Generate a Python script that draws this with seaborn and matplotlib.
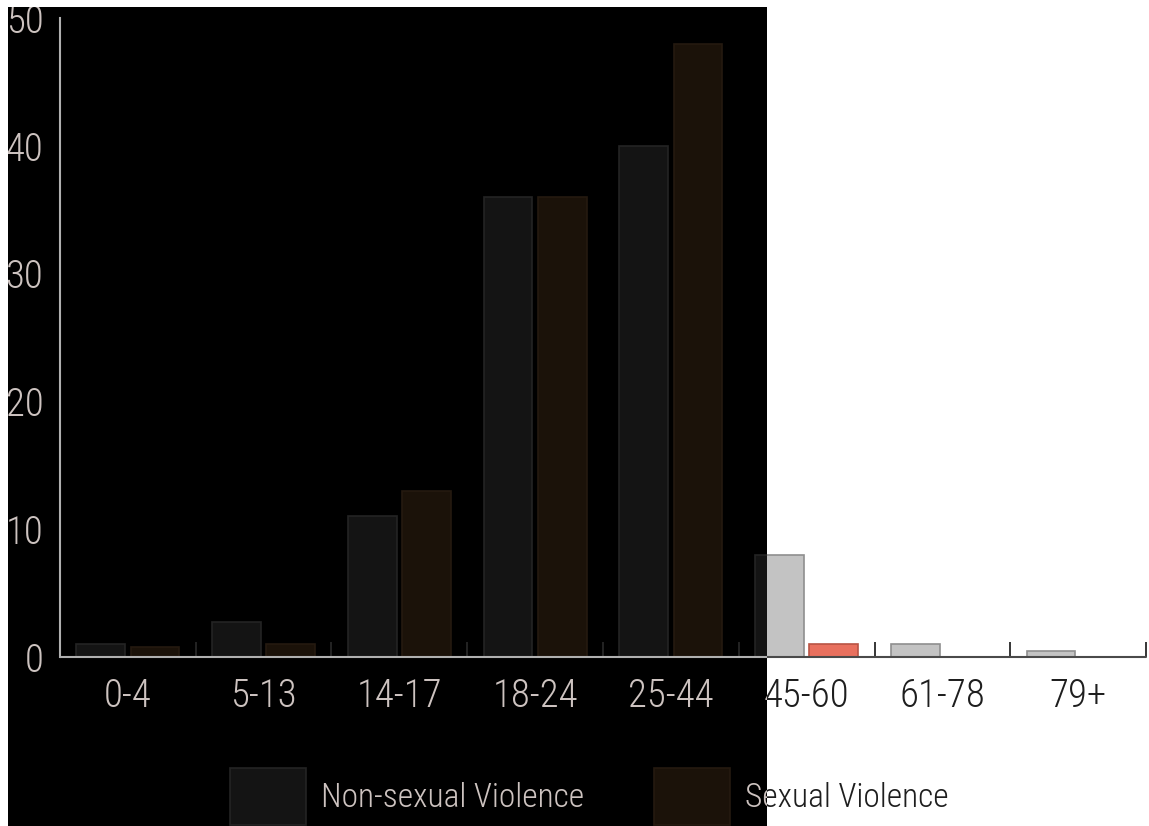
import matplotlib
matplotlib.use("Agg")
import matplotlib.pyplot as plt
from matplotlib.patches import Rectangle, Patch
from matplotlib.text import Text
from matplotlib import font_manager
import seaborn as sns
import pandas as pd

age_groups = ["0-4", "5-13", "14-17", "18-24", "25-44", "45-60", "61-78", "79+"]
non_sexual = [1, 2.7, 11, 36, 40, 8, 1, 0.5]
sexual = [0.8, 1, 13, 36, 48, 1, 0, 0]
series_names = ["Non-sexual Violence", "Sexual Violence"]
y_ticks = [0, 10, 20, 30, 40, 50]

# colours on the white part, and inside the dark band on the left
LIGHT_FILL = {"Non-sexual Violence": "#c3c3c3", "Sexual Violence": "#e8705e"}
LIGHT_EDGE = {"Non-sexual Violence": "#8f8f8f", "Sexual Violence": "#b95444"}
DARK_FILL = {"Non-sexual Violence": "#141414", "Sexual Violence": "#1b1209"}
DARK_EDGE = {"Non-sexual Violence": "#242424", "Sexual Violence": "#251a10"}
INK_DARK = "#1e1e1e"
INK_LIGHT = "#cdc3c0"
LINE_DARK = "#4a4a4a"
LINE_LIGHT = "#b0b0b0"

df = pd.DataFrame({
    "age": age_groups * 2,
    "count": non_sexual + sexual,
    "type": [series_names[0]] * len(age_groups) + [series_names[1]] * len(age_groups),
})

sns.set_theme(style="white")
installed = {f.name for f in font_manager.fontManager.ttflist}
narrow = [n for n in ["Liberation Sans Narrow", "Roboto Condensed", "DejaVu Sans Condensed"] if n in installed]
plt.rcParams["font.family"] = narrow + ["DejaVu Sans"]
plt.rcParams["font.weight"] = "light"

fig = plt.figure(figsize=(11.49, 8.26), dpi=100, facecolor="white")
ax = fig.add_axes([0.0522, 0.2046, 0.9452, 0.7736])
ax.set_facecolor("none")

# dark band covering the left two thirds of the picture
band_x0, band_x1, band_top = 0.007, 0.6675, 0.9915
fig.add_artist(Rectangle((band_x0, 0), band_x1 - band_x0, band_top, transform=fig.transFigure,
                         facecolor="black", edgecolor="none", zorder=-10))
dark_clip = Rectangle((band_x0, 0), band_x1 - band_x0, band_top, transform=fig.transFigure)
light_clip = Rectangle((band_x1, 0), 1 - band_x1, 1, transform=fig.transFigure)

sns.barplot(data=df, x="age", y="count", hue="type", order=age_groups, hue_order=series_names,
            palette=LIGHT_FILL, width=0.8, gap=0.1, saturation=1, legend=False, ax=ax)

for name, cont in zip(series_names, ax.containers):
    for bar in cont:
        bar.set_edgecolor(LIGHT_EDGE[name])
        bar.set_linewidth(1.2)
        bar.set_clip_path(light_clip)
        shade = Rectangle(bar.get_xy(), bar.get_width(), bar.get_height(),
                          facecolor=DARK_FILL[name], edgecolor=DARK_EDGE[name],
                          linewidth=1.2, zorder=bar.get_zorder())
        ax.add_patch(shade)
        shade.set_clip_path(dark_clip)

ax.set_xlim(-0.5, len(age_groups) - 0.5)
ax.set_ylim(0, 50)
ax.set_xlabel("")
ax.set_ylabel("")

for s in ["top", "right", "bottom"]:
    ax.spines[s].set_visible(False)
ax.spines["left"].set_color(LINE_LIGHT)
ax.spines["left"].set_linewidth(1.5)

base = ax.axhline(0, color=LINE_DARK, lw=1.5, zorder=3)
base.set_clip_path(light_clip)
base2 = ax.axhline(0, color=LINE_LIGHT, lw=1.5, zorder=3)
base2.set_clip_path(dark_clip)

ax.set_yticks(y_ticks)
ax.tick_params(axis="y", direction="in", length=19, width=1.3, color=LINE_LIGHT,
               labelsize=28, pad=12)
ax.set_xticks(range(len(age_groups)))
ax.set_xticklabels(age_groups)
ax.set_xticks([i + 0.5 for i in range(len(age_groups))], minor=True)
ax.tick_params(axis="x", which="major", length=0, labelsize=28, pad=15)
ax.tick_params(axis="x", which="minor", direction="in", length=11, width=1.3, bottom=True)


def in_band(x_data):
    xf = fig.transFigure.inverted().transform(ax.transData.transform((x_data, 0)))[0]
    return xf < band_x1


for tick, pos in zip(ax.xaxis.get_minor_ticks(), ax.xaxis.get_minorticklocs()):
    tick.tick1line.set_color(LINE_LIGHT if in_band(pos) else LINE_DARK)

handles = [Patch(facecolor=DARK_FILL[n], edgecolor=DARK_EDGE[n], linewidth=1.2) for n in series_names]
leg = fig.legend(handles, series_names, loc="center", bbox_to_anchor=(0.513, 0.036), ncol=2,
                 frameon=False, fontsize=24, handlelength=2.27, handleheight=2.27,
                 handletextpad=0.45, columnspacing=2.1)

# texts crossing the band: dark ink on white, light ink on black
fig.canvas.draw()
texts = list(ax.get_xticklabels()) + list(ax.get_yticklabels()) + list(leg.get_texts())
for txt in texts:
    twin = Text(*txt.get_position(), text=txt.get_text(), transform=txt.get_transform(),
                fontproperties=txt.get_fontproperties(), ha=txt.get_ha(), va=txt.get_va(),
                color=INK_LIGHT, zorder=6)
    fig.add_artist(twin)
    twin.set_clip_path(dark_clip)
    txt.set_color(INK_DARK)
    txt.set_clip_path(light_clip)

fig.savefig("out.png", dpi=100, facecolor="white")
